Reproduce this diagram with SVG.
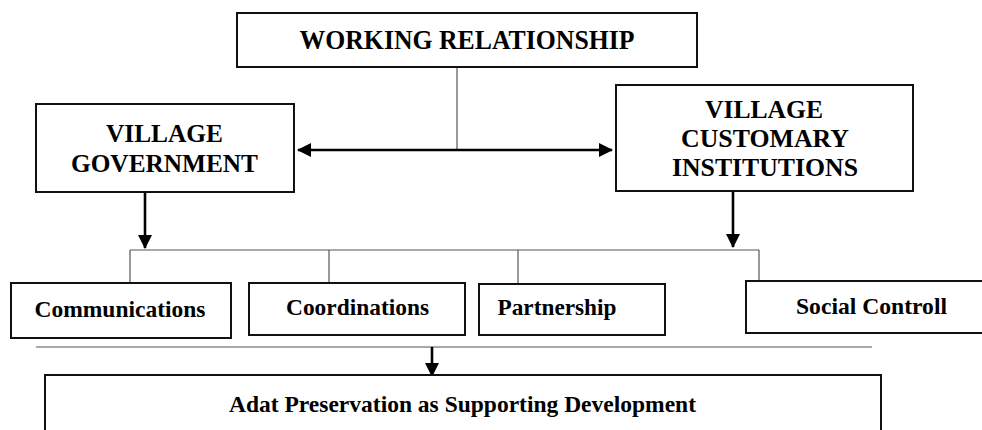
<svg xmlns="http://www.w3.org/2000/svg" width="982" height="430" viewBox="0 0 982 430">
<defs>
<marker id="ah" markerUnits="userSpaceOnUse" markerWidth="14" markerHeight="14" viewBox="0 0 14 14" refX="13" refY="7" orient="auto-start-reverse">
<path d="M0,0 L14,7 L0,14 z" fill="#000"/>
</marker>
<style>
.box{fill:#fff;stroke:#111;stroke-width:2}
.thin{stroke:#555;stroke-width:1.2;fill:none}
.thick{stroke:#000;stroke-width:2.6;fill:none}
</style>
</defs>
<rect width="982" height="430" fill="#fff"/>
<g id="connectors">
<line class="thin" x1="457" y1="67" x2="457" y2="150"/>
<line class="thick" x1="298" y1="150" x2="612" y2="150" marker-start="url(#ah)" marker-end="url(#ah)"/>
<line class="thick" x1="145" y1="192" x2="145" y2="248" marker-end="url(#ah)"/>
<line class="thick" x1="733" y1="191" x2="733" y2="247" marker-end="url(#ah)"/>
<line class="thin" x1="130" y1="250" x2="759" y2="250"/>
<line class="thin" x1="130" y1="250" x2="130" y2="283"/>
<line class="thin" x1="329" y1="250" x2="329" y2="283"/>
<line class="thin" x1="518" y1="250" x2="518" y2="284"/>
<line class="thin" x1="759" y1="250" x2="759" y2="281"/>
<line class="thin" x1="36" y1="347" x2="872" y2="347"/>
<line class="thick" x1="432" y1="347" x2="432" y2="376" marker-end="url(#ah)"/>
</g>
<g font-family="Liberation Serif, Times New Roman, serif" font-weight="bold" fill="#000">
<g id="working">
<rect class="box" x="237" y="13" width="460" height="54"/>
<text x="467" y="49" font-size="27" text-anchor="middle" textLength="335" lengthAdjust="spacingAndGlyphs">WORKING RELATIONSHIP</text>
</g>
<g id="village-government">
<rect class="box" x="36" y="104" width="258" height="88"/>
<text x="164.5" y="141.5" font-size="25" text-anchor="middle" textLength="117" lengthAdjust="spacingAndGlyphs">VILLAGE</text>
<text x="164.5" y="171.5" font-size="25" text-anchor="middle" textLength="187" lengthAdjust="spacingAndGlyphs">GOVERNMENT</text>
</g>
<g id="village-customary">
<rect class="box" x="616" y="85" width="297" height="106"/>
<text x="764" y="118" font-size="25" text-anchor="middle" textLength="118" lengthAdjust="spacingAndGlyphs">VILLAGE</text>
<text x="765" y="147" font-size="25" text-anchor="middle" textLength="168" lengthAdjust="spacingAndGlyphs">CUSTOMARY</text>
<text x="765" y="176" font-size="25" text-anchor="middle" textLength="186" lengthAdjust="spacingAndGlyphs">INSTITUTIONS</text>
</g>
<g id="communications">
<rect class="box" x="11" y="283" width="220" height="55"/>
<text x="120" y="316.5" font-size="24" text-anchor="middle" textLength="171" lengthAdjust="spacingAndGlyphs">Communications</text>
</g>
<g id="coordinations">
<rect class="box" x="249" y="283" width="216" height="52"/>
<text x="357.5" y="315" font-size="24" text-anchor="middle" textLength="143" lengthAdjust="spacingAndGlyphs">Coordinations</text>
</g>
<g id="partnership">
<rect class="box" x="479" y="284" width="186" height="51"/>
<text x="497.5" y="315" font-size="24" textLength="119" lengthAdjust="spacingAndGlyphs">Partnership</text>
</g>
<g id="social-controll">
<rect class="box" x="746" y="281" width="245" height="52"/>
<text x="871.5" y="313.5" font-size="24" text-anchor="middle" textLength="151" lengthAdjust="spacingAndGlyphs">Social Controll</text>
</g>
<g id="adat">
<rect class="box" x="45" y="375" width="836" height="70"/>
<text x="462.5" y="411.5" font-size="24" text-anchor="middle" textLength="467" lengthAdjust="spacingAndGlyphs">Adat Preservation as Supporting Development</text>
</g>
</g>
</svg>
